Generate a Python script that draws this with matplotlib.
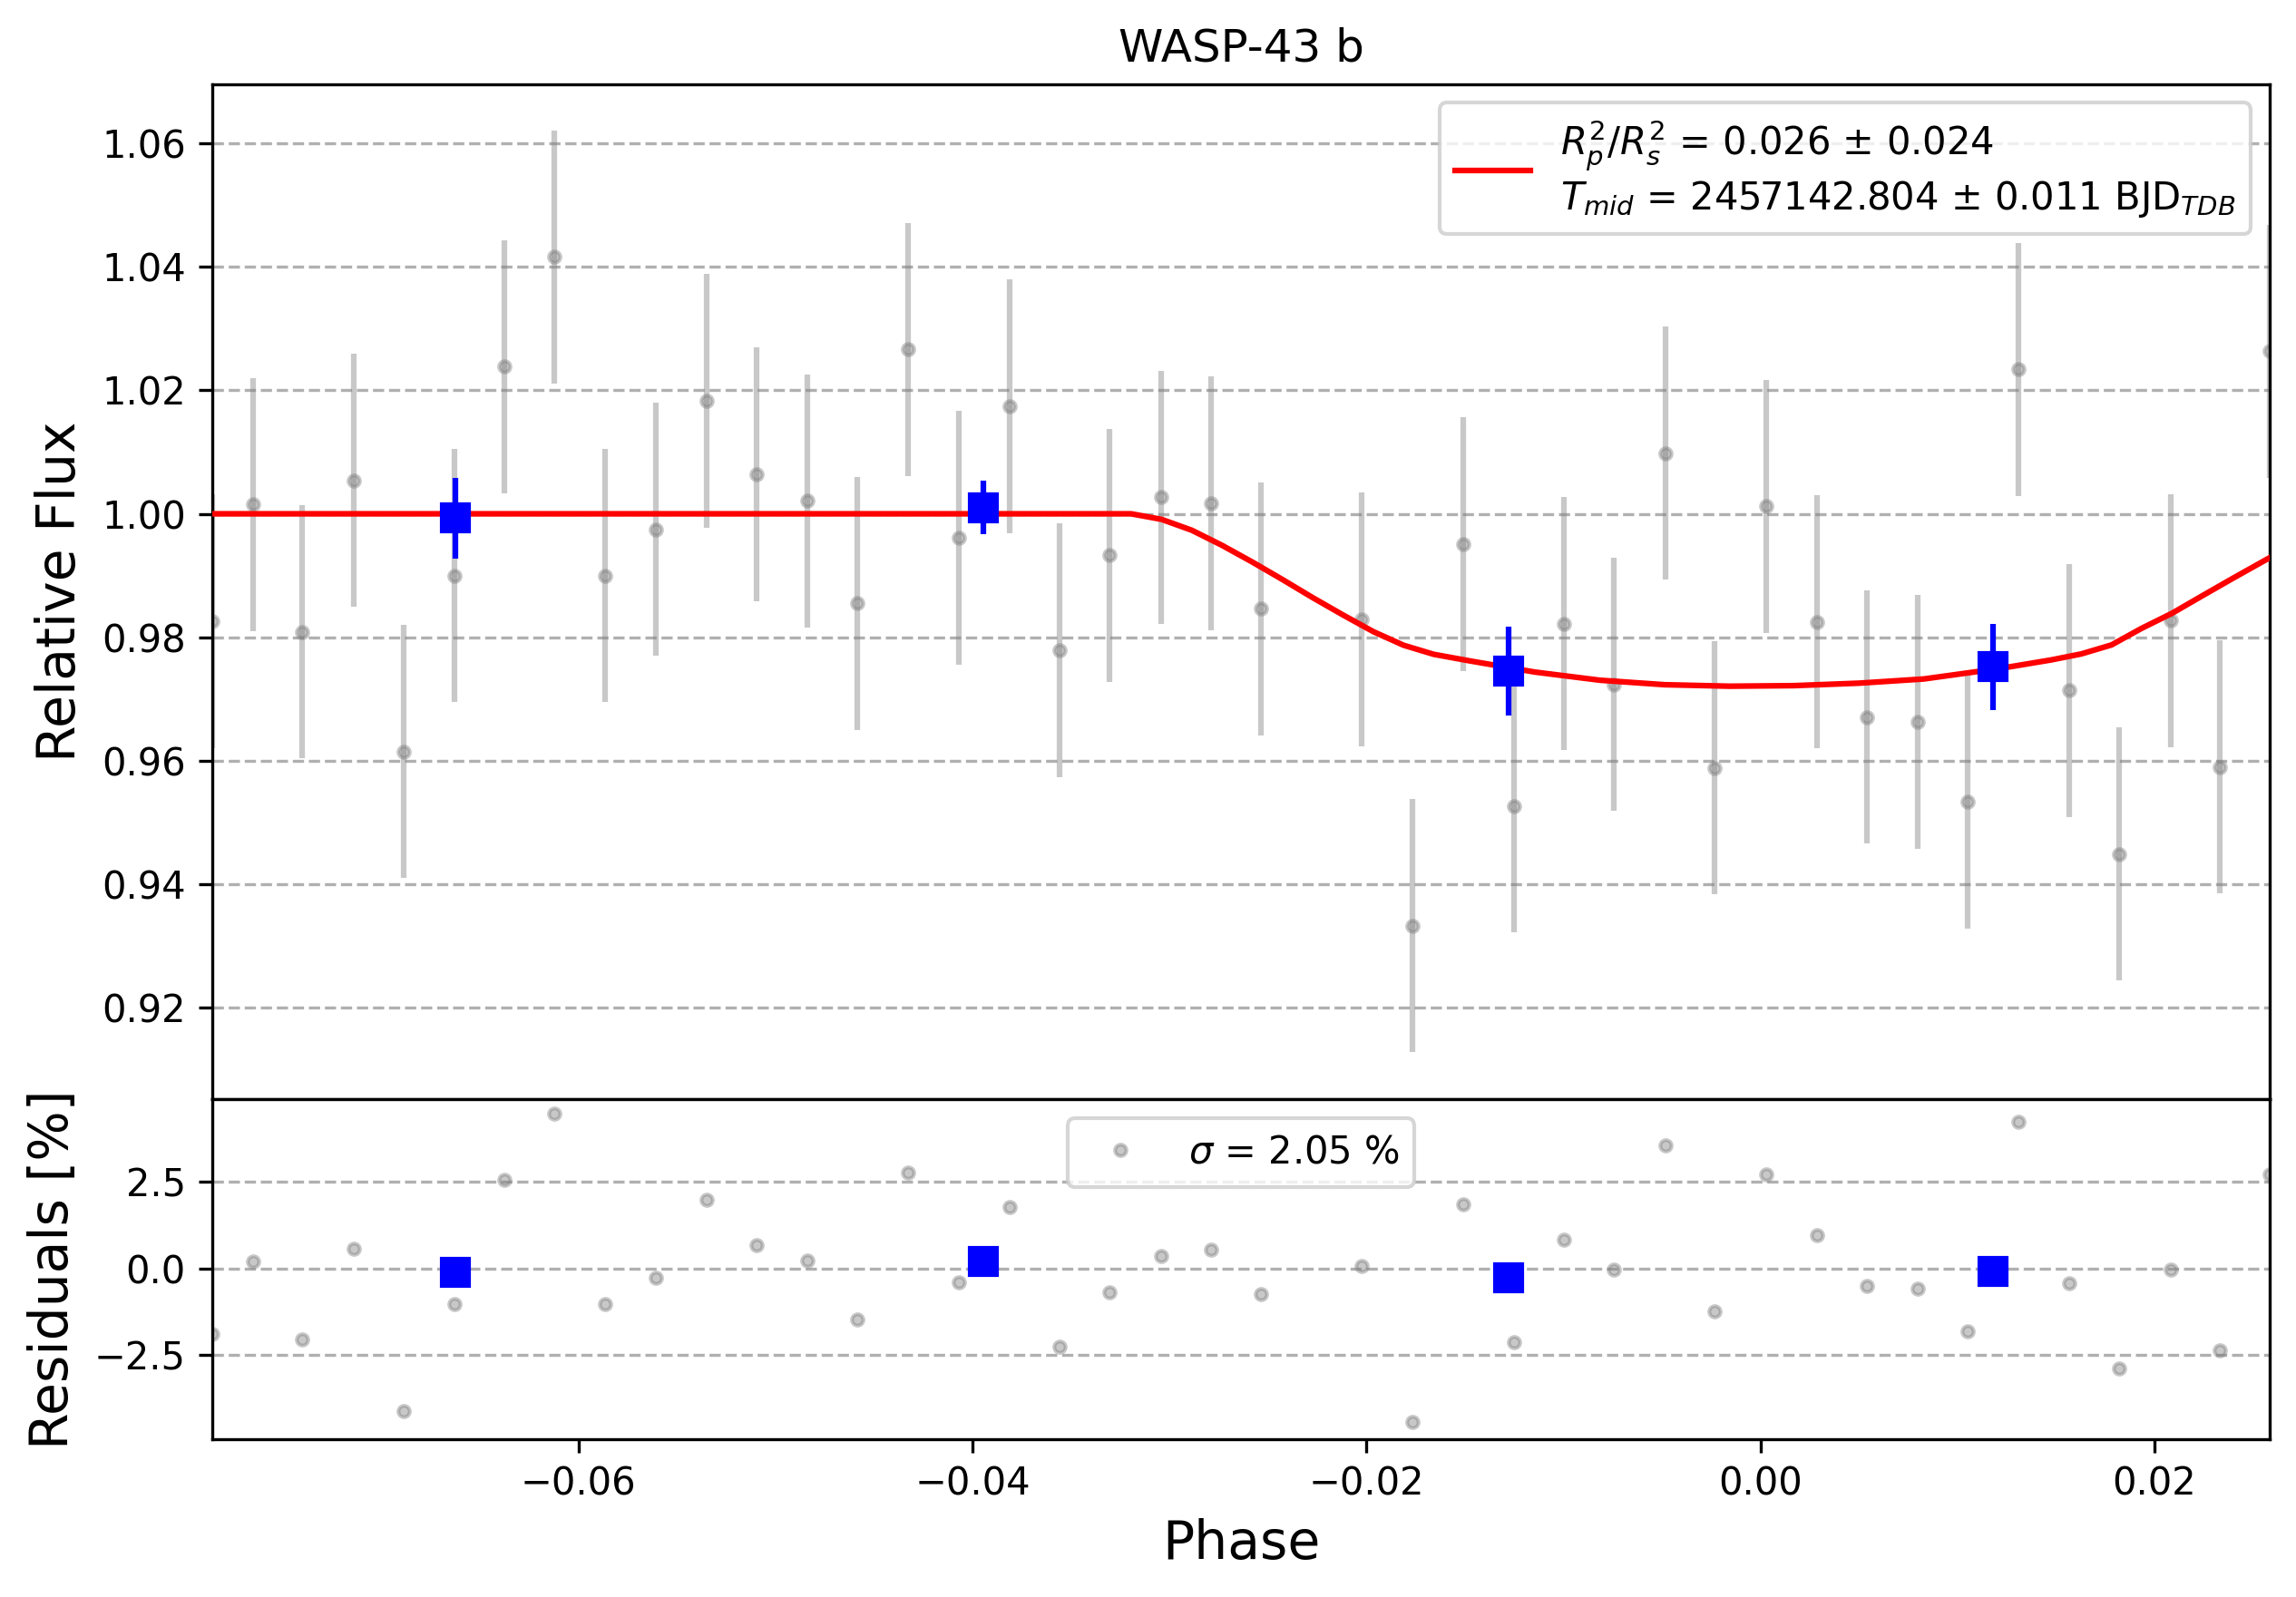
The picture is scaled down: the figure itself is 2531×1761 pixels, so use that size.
import numpy as np
import matplotlib
matplotlib.use("Agg")
import matplotlib.pyplot as plt

# light curve points
phase = [-0.07860, -0.07653, -0.07402, -0.07143, -0.06889, -0.06632, -0.06379,
         -0.06122, -0.05865, -0.05608, -0.05349, -0.05096, -0.04839, -0.04585,
         -0.04326, -0.04069, -0.03813, -0.03557, -0.03305, -0.03045, -0.02788,
         -0.02536, -0.02023, -0.01767, -0.01511, -0.01253, -0.00997, -0.00745,
         -0.00484, -0.00232, 0.00029, 0.00285, 0.00541, 0.00799, 0.01050,
         0.01311, 0.01568, 0.01820, 0.02081, 0.02333, 0.02585]
flux = [0.9826, 1.0015, 0.9809, 1.0054, 0.9615, 0.9900, 1.0238,
        1.0416, 0.9900, 0.9975, 1.0183, 1.0064, 1.0021, 0.9855,
        1.0266, 0.9961, 1.0174, 0.9779, 0.9933, 1.0027, 1.0017,
        0.9846, 0.9829, 0.9333, 0.9951, 0.9527, 0.9822, 0.9724,
        1.0098, 0.9589, 1.0012, 0.9825, 0.9671, 0.9663, 0.9534,
        1.0234, 0.9714, 0.9449, 0.9827, 0.9590, 1.0263]
flux_err = [0.0205] * len(phase)
resid = [-1.88, 0.19, -2.05, 0.57, -4.12, -1.04, 2.56,
         4.46, -1.04, -0.27, 1.97, 0.66, 0.23, -1.46,
         2.77, -0.40, 1.78, -2.26, -0.68, 0.37, 0.55,
         -0.74, 0.07, -4.43, 1.85, -2.13, 0.83, -0.03,
         3.55, -1.23, 2.71, 0.97, -0.50, -0.59, -1.82,
         4.23, -0.43, -2.89, -0.04, -2.35, 2.70]

# binned points
bin_phase = [-0.06626, -0.03945, -0.01281, 0.01181]
bin_flux = [0.9993, 1.0010, 0.9746, 0.9752]
bin_err = [0.0065, 0.0043, 0.0072, 0.0070]
bin_resid = [-0.10, 0.19, -0.26, -0.08]

# transit model curve
model_phase = [-0.07860, -0.03195, -0.03041, -0.02888, -0.02734, -0.02581,
               -0.02427, -0.02273, -0.02120, -0.01966, -0.01812, -0.01659,
               -0.01475, -0.01146, -0.00816, -0.00487, -0.00158, 0.00171,
               0.00500, 0.00829, 0.01106, 0.01244, 0.01475, 0.01628,
               0.01782, 0.01935, 0.02089, 0.02243, 0.02396, 0.02587]
model_flux = [1.0, 1.0, 0.9991, 0.99735, 0.9949, 0.99221,
              0.98936, 0.98642, 0.98363, 0.98093, 0.97872, 0.97725,
              0.97618, 0.97438, 0.97306, 0.97233, 0.97209, 0.97218,
              0.97258, 0.97326, 0.97448, 0.97511, 0.97634, 0.97731,
              0.97877, 0.98146, 0.98389, 0.98673, 0.98952, 0.99293]

fig = plt.figure(figsize=(2531 / 300, 1761 / 300), dpi=300)
ax_lc = fig.add_axes([0.09245, 0.31153, 0.89609, 0.63594])
ax_res = fig.add_axes([0.09245, 0.09909, 0.89609, 0.21244], sharex=ax_lc)

ax_lc.set_title('WASP-43 b')
ax_lc.errorbar(phase, flux, yerr=flux_err, ls='none', marker='o', color='gray',
               ms=3, alpha=0.43, zorder=2)
ax_lc.plot(model_phase, model_flux, 'r', zorder=1000,
           label=r'$R^2_p/R^2_s$ = 0.026 ± 0.024' + '\n'
                 + r'$T_{mid}$ = 2457142.804 ± 0.011 BJD$_{TDB}$')
ax_lc.errorbar(bin_phase, bin_flux, yerr=bin_err, fmt='s', ms=7, color='blue',
               zorder=2000)
ax_lc.set_ylabel('Relative Flux', fontsize=14)
ax_lc.set_ylim(0.90518, 1.0696)
ax_lc.set_yticks([0.92, 0.94, 0.96, 0.98, 1.00, 1.02, 1.04, 1.06])
ax_lc.grid(True, axis='y', ls='--')
ax_lc.legend(loc='upper right')
ax_lc.get_xaxis().set_visible(False)

ax_res.plot(phase, resid, 'o', color='gray', ms=3, alpha=0.43,
            label=r'$\sigma$ = 2.05 %')
ax_res.plot(bin_phase, bin_resid, 's', ms=7, color='blue', zorder=1000)
ax_res.set_ylim(-4.91, 4.87)
ax_res.set_yticks([-2.5, 0.0, 2.5])
ax_res.grid(True, axis='y', ls='--')
ax_res.set_xlim(min(phase), max(phase))
ax_res.set_xticks([-0.06, -0.04, -0.02, 0.00, 0.02])
ax_res.set_xlabel('Phase', fontsize=14)
ax_res.set_ylabel('Residuals [%]', fontsize=14)
ax_res.legend(loc='upper center')

fig.savefig('out.png', dpi=300)
